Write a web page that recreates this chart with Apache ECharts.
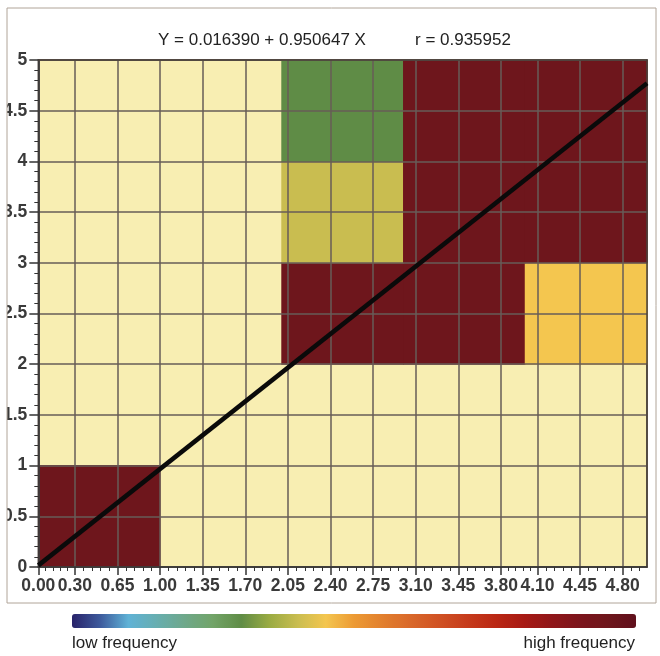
<!DOCTYPE html>
<html>
<head>
<meta charset="utf-8">
<script src="https://cdn.jsdelivr.net/npm/echarts@6/dist/echarts.min.js"></script>
<style>
html,body{margin:0;padding:0;background:#fff;}
#chart{width:660px;height:656px;}
</style>
</head>
<body>
<div id="chart"></div>
<script>
// ---- data ----
const eqText = 'Y = 0.016390 + 0.950647 X';
const rText = 'r = 0.935952';
const lowText = 'low frequency';
const highText = 'high frequency';

const xTickLabels = ['0.00','0.30','0.65','1.00','1.35','1.70','2.05','2.40','2.75','3.10','3.45','3.80','4.10','4.45','4.80'];
const yTickLabels = ['0','0.5','1','1.5','2','2.5','3','3.5','4','4.5','5'];

// heatmap cells: lower-left corners of unit bins, frequency level per cell (null = empty)
const binStarts = [0, 1, 2, 3, 4];
const freqY0 = [95, null, null, null, null];
const freqY1 = [null, null, null, null, null];
const freqY2 = [null, null, 95, 95, 45];
const freqY3 = [null, null, 40, 95, 95];
const freqY4 = [null, null, 30, 95, 95];

const regX = [0, 5];
const regY = [0.016, 4.77];

// ---- build ----
const freqRows = [freqY0, freqY1, freqY2, freqY3, freqY4];
const heatData = [];
freqRows.forEach((row, yi) => row.forEach((v, xi) => {
  if (v != null) heatData.push([binStarts[xi], binStarts[yi], v]);
}));
const regData = regX.map((x, i) => [x, regY[i]]);

const xTickValues = xTickLabels.map(Number);
const yTickValues = yTickLabels.map(Number);
// minor ticks: subdivisions between consecutive major x ticks
const xMinor = [];
const xBounds = [0].concat(xTickValues.slice(1)).concat([5]);
for (let i = 0; i < xBounds.length - 1; i++) {
  const a = xBounds[i], b = xBounds[i + 1];
  const n = (b - a) > 0.25 ? 5 : 3;
  for (let k = 1; k < n; k++) xMinor.push(a + (b - a) * k / n);
}

const FONT = '"Liberation Sans", Arial, sans-serif';
const colors = [
  '#29236a','#3d5a9c','#5fb2d6','#67aeb0','#6ea88a','#72a468','#5f8c46',
  '#9aab42','#c9bd50','#f4c64f','#ec9a34','#e2802e','#d9682a','#d05224',
  '#c63c1c','#bb2814','#a81a14','#901619','#7c151c','#6e161c','#60101c'
];
const tickFont = {fontSize: 17.5, fontWeight: 'bold', color: '#3a3a3a', fontFamily: FONT};

function renderCell(params, api) {
  const x0 = api.value(0), y0 = api.value(1);
  const p0 = api.coord([x0, y0 + 1]);
  const p1 = api.coord([x0 + 1, y0]);
  return {
    type: 'rect',
    shape: {x: p0[0] - 0.5, y: p0[1] - 0.5, width: p1[0] - p0[0] + 1, height: p1[1] - p0[1] + 1},
    style: {fill: api.visual('color')}
  };
}

const chart = echarts.init(document.getElementById('chart'), null, {renderer: 'canvas'});
const option = {
  backgroundColor: '#ffffff',
  animation: false,
  textStyle: {fontFamily: FONT},
  title: [
    {text: eqText, left: 153, top: 27, textStyle: {fontFamily: FONT, fontSize: 17, fontWeight: 'normal', color: '#222'}},
    {text: rText, left: 410, top: 27, textStyle: {fontFamily: FONT, fontSize: 17, fontWeight: 'normal', color: '#222'}},
    {text: lowText, left: 72, top: 635, padding: 0, textStyle: {fontFamily: FONT, fontSize: 17, fontWeight: 'normal', color: '#222'}},
    {text: highText, right: 25, top: 635, padding: 0, textStyle: {fontFamily: FONT, fontSize: 17, fontWeight: 'normal', color: '#222'}}
  ],
  grid: {
    left: 37, right: 13, top: 60, bottom: 89,
    show: true, backgroundColor: '#f8eeb2', borderColor: '#4a403a', borderWidth: 1.5
  },
  visualMap: {
    type: 'continuous', seriesIndex: 0, dimension: 2, min: 0, max: 100,
    orient: 'horizontal', left: 72, top: 614, padding: 0,
    itemWidth: 14, itemHeight: 564, calculable: false, hoverLink: false,
    inRange: {color: colors}
  },
  xAxis: [
    {
      type: 'value', min: 0, max: 5, position: 'bottom', z: 3,
      axisLine: {show: true, onZero: false, lineStyle: {color: '#333', width: 1.5}},
      axisTick: {show: true, customValues: xTickValues, length: 8, lineStyle: {color: '#333', width: 1.5}},
      axisLabel: Object.assign({
        customValues: xTickValues, margin: 10,
        formatter: v => xTickLabels[xTickValues.indexOf(v)] ?? ''
      }, tickFont),
      splitLine: {show: true, lineStyle: {color: '#675d57', width: 1.5}}
    },
    {
      type: 'value', min: 0, max: 5, position: 'bottom', z: 3,
      axisLine: {show: false, onZero: false},
      axisTick: {show: true, customValues: xMinor, length: 4, lineStyle: {color: '#333', width: 1}},
      axisLabel: {show: false},
      splitLine: {show: false}
    },
    {
      type: 'value', min: 0, max: 5, position: 'top', z: 3,
      axisLine: {show: true, onZero: false, lineStyle: {color: '#4a403a', width: 1.5}},
      axisTick: {show: false}, axisLabel: {show: false}, splitLine: {show: false}
    }
  ],
  yAxis: [
    {
      type: 'value', min: 0, max: 5, interval: 0.5, position: 'left', z: 3,
      axisLine: {show: true, onZero: false, lineStyle: {color: '#333', width: 1.5}},
      axisTick: {show: true, customValues: yTickValues, length: 9, lineStyle: {color: '#333', width: 1.5}},
      minorTick: {show: true, splitNumber: 5, length: 4, lineStyle: {color: '#333', width: 1}},
      axisLabel: Object.assign({
        customValues: yTickValues, margin: 11,
        formatter: v => yTickLabels[yTickValues.indexOf(v)] ?? ''
      }, tickFont),
      splitLine: {show: true, lineStyle: {color: '#675d57', width: 1.5}}
    },
    {
      type: 'value', min: 0, max: 5, position: 'right', z: 3,
      axisLine: {show: true, onZero: false, lineStyle: {color: '#4a403a', width: 1.5}},
      axisTick: {show: false}, axisLabel: {show: false}, splitLine: {show: false}
    }
  ],
  series: [
    {
      type: 'custom', xAxisIndex: 0, yAxisIndex: 0, data: heatData,
      encode: {x: 0, y: 1}, renderItem: renderCell, clip: true, silent: true, z: 2
    },
    {
      type: 'line', xAxisIndex: 0, yAxisIndex: 0, data: regData,
      symbol: 'none', lineStyle: {color: '#0a0a0a', width: 4.5}, z: 5, silent: true
    }
  ],
  graphic: [
    {type: 'rect', z: 100, shape: {x: 0, y: 0, width: 7, height: 656}, style: {fill: '#ffffff'}},
    {type: 'rect', z: 100, shape: {x: 7, y: 8, width: 649, height: 595}, style: {fill: null, stroke: '#b0a498', lineWidth: 1}}
  ]
};
chart.setOption(option);
</script>
</body>
</html>
